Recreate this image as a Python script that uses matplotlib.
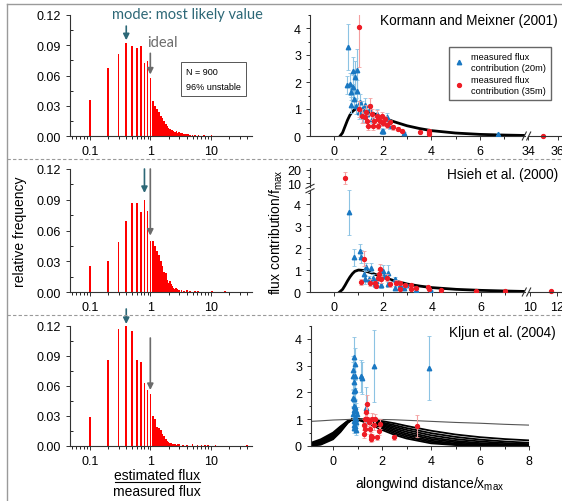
import numpy as np
import matplotlib.pyplot as plt
from matplotlib.lines import Line2D
from matplotlib.ticker import MultipleLocator, FixedLocator, NullFormatter, LogLocator

plt.rcParams['font.family'] = ['Liberation Sans', 'DejaVu Sans']

# ---------------- data: histograms (estimated flux / measured flux) ----------------
ratio = [0.1, 0.2, 0.3, 0.4, 0.5, 0.6, 0.7, 0.8, 0.9, 1.0,
         1.1, 1.2, 1.3, 1.4, 1.5, 1.6, 1.7, 1.8, 1.9, 2.0,
         2.1, 2.2, 2.3, 2.4, 2.5, 2.6, 2.7, 2.8, 2.9, 3.0]

freq_km = [0.036, 0.067, 0.081, 0.092, 0.0895, 0.087, 0.089, 0.072, 0.074, 0.058,
           0.035, 0.030, 0.027, 0.0235, 0.020, 0.0175, 0.015, 0.012, 0.010, 0.008,
           0.007, 0.006, 0.006, 0.005, 0.004, 0.004, 0.0045, 0.003, 0.003, 0.0035]
tail_km_x = [3.2, 3.4, 3.6, 3.9, 4.2, 4.5, 5.0, 5.5, 6.3, 7.8, 10.2]
tail_km_f = [0.003, 0.003, 0.002, 0.002, 0.002, 0.001, 0.001, 0.001, 0.001, 0.001, 0.001]

freq_hs = [0.025, 0.030, 0.049, 0.069, 0.087, 0.087, 0.078, 0.0895, 0.079, 0.050,
           0.050, 0.045, 0.040, 0.036, 0.030, 0.025, 0.020, 0.019, 0.012, 0.009,
           0.011, 0.008, 0.006, 0.004, 0.003, 0.004, 0.004, 0.003, 0.002, 0.002]
tail_hs_x = [3.3, 3.6, 4.0, 4.5, 5.5, 6.2, 10.5, 17.0]
tail_hs_f = [0.002, 0.001, 0.0015, 0.001, 0.001, 0.001, 0.001, 0.001]

freq_kl = [0.029, 0.086, 0.117, 0.120, 0.115, 0.086, 0.084, 0.063, 0.056, 0.052,
           0.030, 0.027, 0.019, 0.018, 0.016, 0.012, 0.010, 0.007, 0.005, 0.004,
           0.003, 0.003, 0.002, 0.002, 0.002, 0.002, 0.001, 0.002, 0.001, 0.002]
tail_kl_x = [3.5, 4.0, 5.0, 6.0, 7.0, 8.0, 9.0, 12.0, 40.0]
tail_kl_f = [0.001, 0.0015, 0.002, 0.001, 0.001, 0.001, 0.001, 0.001, 0.001]

# ---------------- data: model footprints ----------------
km_x = [0.25, 0.35, 0.45, 0.55, 0.65, 0.75, 0.85, 0.95, 1.1, 1.3, 1.6, 2.0, 2.5, 3.0, 3.5, 4.0, 5.0, 6.0, 7.0, 7.86]
km_y = [0.0, 0.12, 0.35, 0.58, 0.77, 0.90, 0.98, 1.0, 0.99, 0.94, 0.84, 0.68, 0.52, 0.38, 0.28, 0.20, 0.11, 0.06, 0.035, 0.02]

hs_x = [0.23, 0.35, 0.45, 0.55, 0.65, 0.75, 0.85, 1.0, 1.2, 1.5, 2.0, 2.5, 3.0, 3.5, 4.0, 5.0, 6.0, 7.0, 7.8]
hs_y = [0.0, 0.12, 0.3, 0.5, 0.68, 0.83, 0.94, 1.0, 0.98, 0.88, 0.67, 0.5, 0.36, 0.27, 0.2, 0.12, 0.075, 0.045, 0.025]

kl_x = [-0.9, -0.5, 0.0, 0.3, 0.6, 0.8, 1.0, 1.4, 2.0, 2.5, 3.0, 4.0, 5.0, 6.0, 7.0, 8.0]
kl_curves = [
    [0.01, 0.05, 0.25, 0.52, 0.86, 1.00, 0.98, 0.86, 0.60, 0.42, 0.28, 0.10, 0.035, 0.012, 0.005, 0.002],
    [0.02, 0.07, 0.29, 0.55, 0.88, 1.00, 0.99, 0.89, 0.66, 0.48, 0.34, 0.15, 0.06, 0.025, 0.01, 0.004],
    [0.03, 0.09, 0.32, 0.58, 0.89, 1.00, 0.99, 0.91, 0.71, 0.54, 0.40, 0.20, 0.09, 0.04, 0.018, 0.008],
    [0.04, 0.11, 0.35, 0.61, 0.90, 1.00, 0.99, 0.93, 0.76, 0.60, 0.46, 0.26, 0.14, 0.07, 0.035, 0.018],
    [0.05, 0.13, 0.38, 0.64, 0.91, 1.00, 1.00, 0.94, 0.80, 0.66, 0.53, 0.32, 0.19, 0.11, 0.065, 0.04],
    [0.07, 0.16, 0.42, 0.67, 0.92, 1.00, 1.00, 0.96, 0.84, 0.72, 0.60, 0.40, 0.26, 0.17, 0.11, 0.07],
    [0.09, 0.20, 0.46, 0.70, 0.93, 1.00, 1.00, 0.97, 0.88, 0.78, 0.67, 0.48, 0.34, 0.24, 0.17, 0.12],
    [0.12, 0.25, 0.50, 0.73, 0.94, 1.00, 1.00, 0.98, 0.93, 0.85, 0.75, 0.57, 0.43, 0.33, 0.26, 0.21],
]
kl_wide = [0.92, 0.94, 0.97, 0.98, 0.99, 1.0, 1.0, 1.0, 0.99, 0.98, 0.96, 0.92, 0.88, 0.85, 0.81, 0.78]

# ---------------- data: measured flux contributions ----------------
km_b_x = [0.59, 0.55, 0.66, 0.69, 0.77, 0.80, 0.86, 0.96, 0.96, 0.70, 0.82, 0.91, 1.02, 1.07, 1.14,
          1.21, 1.28, 1.37, 1.48, 1.55, 1.76, 1.89, 1.96, 2.03, 2.17, 2.24, 2.30, 2.89, 6.76]
km_b_y = [3.28, 1.89, 1.93, 1.62, 1.80, 2.42, 2.17, 2.44, 1.68, 1.15, 1.37, 1.10, 0.88, 1.25, 1.00,
          0.73, 1.15, 0.81, 1.00, 0.63, 0.81, 0.51, 0.20, 0.17, 0.69, 0.51, 0.38, 0.11, 0.07]
km_b_e = [0.85, 0.35, 0.4, 0.3, 0.45, 0.5, 0.6, 0.8, 0.4, 0.3, 0.35, 0.3, 0.25, 0.3, 0.3,
          0.2, 0.25, 0.2, 0.2, 0.15, 0.2, 0.15, 0.1, 0.1, 0.15, 0.12, 0.1, 0.05, 0.03]

km_r_x = [1.03, 1.03, 1.14, 1.28, 1.32, 1.37, 1.41, 1.48, 1.55, 1.62, 1.65, 1.76, 1.82, 1.82,
          1.89, 1.96, 2.03, 2.10, 2.19, 2.30, 2.44, 2.65, 2.78, 3.54, 3.92, 3.92, 3.92]
km_r_y = [4.05, 1.00, 0.75, 0.69, 0.88, 0.57, 0.38, 1.12, 0.81, 0.38, 0.57, 0.75, 0.38, 0.63,
          0.57, 0.75, 0.48, 0.63, 0.41, 0.51, 0.32, 0.26, 0.20, 0.16, 0.20, 0.14, 0.07]
km_r_e = [1.5, 0.3, 0.25, 0.2, 0.25, 0.2, 0.15, 0.3, 0.2, 0.15, 0.15, 0.2, 0.12, 0.15,
          0.15, 0.15, 0.12, 0.12, 0.1, 0.1, 0.08, 0.06, 0.05, 0.04, 0.05, 0.04, 0.03]
km_r_far_x = [35.0]
km_r_far_y = [0.01]

hs_b_x = [0.61, 0.80, 1.05, 1.12, 1.21, 1.25, 1.32, 1.43, 1.52, 1.59, 1.66, 1.73, 1.93, 2.00,
          2.03, 2.20, 2.20, 2.48, 2.48, 2.68, 2.84, 2.95, 3.33, 3.97]
hs_b_y = [3.62, 1.57, 1.87, 1.61, 0.81, 0.58, 1.14, 0.58, 1.11, 0.65, 0.35, 0.50, 0.30, 0.96,
          0.73, 0.88, 0.35, 0.58, 0.20, 0.30, 0.20, 0.30, 0.09, 0.05]
hs_b_e = [1.02, 0.4, 0.3, 0.3, 0.2, 0.2, 0.2, 0.15, 0.2, 0.15, 0.12, 0.12, 0.1, 0.25,
          0.15, 0.35, 0.1, 0.12, 0.08, 0.08, 0.06, 0.08, 0.04, 0.03]

hs_r_x = [1.21, 1.12, 1.46, 1.66, 1.73, 1.80, 1.84, 1.86, 1.93, 2.16, 2.27, 2.52, 2.68, 2.71,
          2.88, 3.16, 3.16, 3.36, 3.84, 3.88, 4.35, 5.81, 6.97]
hs_r_y = [1.52, 0.46, 0.43, 0.40, 0.27, 0.65, 0.81, 1.03, 0.58, 0.65, 0.35, 0.43, 0.40, 0.15,
          0.30, 0.30, 0.15, 0.20, 0.23, 0.15, 0.08, 0.05, 0.03]
hs_r_e = [0.35, 0.15, 0.15, 0.12, 0.1, 0.15, 0.2, 0.25, 0.15, 0.15, 0.1, 0.1, 0.1, 0.05,
          0.08, 0.08, 0.05, 0.05, 0.05, 0.04, 0.03, 0.02, 0.01]
hs_r_high_x = [0.46]
hs_r_high_y = [13.75]
hs_r_high_e = [4.5]
hs_r_far_x = [11.55]
hs_r_far_y = [0.03]

kl_b_x = [0.85, 0.90, 0.83, 0.82, 0.88, 0.84, 0.88, 0.85, 0.80, 0.86, 0.84, 0.90, 0.86, 0.92, 0.83,
          0.88, 0.95, 0.86, 0.92, 0.84, 0.90, 0.86, 0.92, 0.97, 1.13, 1.20, 1.36, 1.67, 3.93]
kl_b_y = [3.32, 3.05, 2.85, 2.62, 2.62, 2.40, 2.10, 2.05, 1.78, 1.75, 1.50, 1.45, 1.35, 1.30, 1.20,
          1.10, 1.00, 0.95, 0.88, 0.80, 0.75, 0.68, 0.60, 1.20, 2.63, 2.53, 1.41, 3.00, 2.90]
kl_b_e = [0.75, 0.6, 0.5, 0.5, 0.45, 0.4, 0.4, 0.35, 0.3, 0.3, 0.3, 0.3, 0.3, 0.3, 0.25,
          0.25, 0.25, 0.2, 0.2, 0.2, 0.2, 0.2, 0.2, 0.25, 0.6, 0.6, 0.8, 1.35, 1.2]

kl_r_x = [1.40, 1.36, 1.31, 1.27, 1.31, 1.27, 1.40, 1.47, 1.49, 1.53, 1.57, 1.60, 1.67, 1.73,
          1.87, 1.80, 1.91, 2.47, 3.44, 1.53]
kl_r_y = [1.57, 1.26, 1.00, 0.79, 0.64, 0.45, 1.00, 0.88, 0.64, 0.39, 0.32, 1.00, 0.79, 1.00,
          0.57, 0.32, 0.82, 0.32, 0.74, 0.26]
kl_r_e = [0.35, 0.3, 0.25, 0.2, 0.2, 0.15, 0.25, 0.2, 0.2, 0.15, 0.12, 0.25, 0.2, 0.2,
          0.15, 0.1, 0.2, 0.1, 0.4, 0.1]

# ---------------- styling ----------------
W, H = 562, 502
BLUE, BLUE_E = '#1a78c2', '#8cc3e3'
RED, RED_E = '#ee1c25', '#f4a0a0'
TEAL, GREY = '#2d6877', '#6b6b6b'

fig = plt.figure(figsize=(W / 100, H / 100), dpi=100)


def px_rect(x0, y0, x1, y1):
    return [x0 / W, 1 - y1 / H, (x1 - x0) / W, (y1 - y0) / H]


def fx(x):
    return x / W


def fy(y):
    return 1 - y / H


def clean(ax, left=True, bottom=True):
    for s in ['top', 'right']:
        ax.spines[s].set_visible(False)
    ax.spines['left'].set_visible(left)
    ax.spines['bottom'].set_visible(bottom)
    for s in ['left', 'bottom']:
        ax.spines[s].set_color('#333333')
        ax.spines[s].set_linewidth(0.8)
    ax.tick_params(labelsize=9, length=3, width=0.7, colors='#333333', labelcolor='black')
    ax.tick_params(which='minor', length=1.8, width=0.6)
    ax.patch.set_alpha(0)


def slashes(x, y, vertical_axis=False):
    # little '//' break mark, pixel position
    for dx in (-2.2, 2.2):
        if vertical_axis:
            xs = [x - 4, x + 4]
            ys = [y + dx + 2, y + dx - 2]
        else:
            xs = [x + dx - 2, x + dx + 2]
            ys = [y + 4, y - 4]
        fig.add_artist(Line2D([fx(v) for v in xs], [fy(v) for v in ys],
                              color='#333333', lw=0.8, transform=fig.transFigure))


# ---------------- frame lines ----------------
fig.add_artist(Line2D([fx(7), 1], [fy(5), fy(5)], color='#9a9a9a', lw=1.0, transform=fig.transFigure))
fig.add_artist(Line2D([fx(7), fx(7)], [fy(5), 0], color='#9a9a9a', lw=1.0, transform=fig.transFigure))
for yy in (160, 316):
    fig.add_artist(Line2D([fx(7), 1], [fy(yy), fy(yy)], color='#9a9a9a', lw=0.8,
                          ls=(0, (3, 2)), transform=fig.transFigure))

# ---------------- histograms ----------------
hist_rows = [
    (px_rect(70, 16, 252, 137), freq_km, tail_km_x, tail_km_f),
    (px_rect(70, 170, 252, 293), freq_hs, tail_hs_x, tail_hs_f),
    (px_rect(70, 327, 252, 447), freq_kl, tail_kl_x, tail_kl_f),
]
hist_axes = []
for rect, f, tx, tf in hist_rows:
    ax = fig.add_axes(rect)
    xs = np.array(ratio + tx)
    ys = np.array(f + tf)
    ax.bar(xs, ys, width=0.06 * xs, color='#ff0000', linewidth=0)
    ax.set_xscale('log')
    ax.set_xlim(0.047, 48)
    ax.set_ylim(0, 0.12)
    ax.set_yticks([0, 0.03, 0.06, 0.09, 0.12])
    ax.set_yticklabels(['0.00', '0.03', '0.06', '0.09', '0.12'])
    ax.yaxis.set_minor_locator(MultipleLocator(0.015))
    ax.set_xticks([0.1, 1, 10])
    ax.set_xticklabels(['0.1', '1', '10'])
    ax.xaxis.set_minor_locator(LogLocator(base=10, subs=np.arange(2, 10)))
    ax.xaxis.set_minor_formatter(NullFormatter())
    clean(ax)
    ax.tick_params(axis='y', which='minor', direction='in')
    hist_axes.append(ax)

arrow_kw = dict(arrowstyle='-|>', lw=1.2, mutation_scale=9, shrinkA=0, shrinkB=0)
a1, a2, a3 = hist_axes
a1.annotate('', xy=(0.4, 0.095), xytext=(0.4, 0.109), annotation_clip=False,
            arrowprops=dict(color=TEAL, **arrow_kw))
a1.annotate('', xy=(1.0, 0.061), xytext=(1.0, 0.082), annotation_clip=False,
            arrowprops=dict(color=GREY, **arrow_kw))
a2.annotate('', xy=(0.8, 0.0966), xytext=(0.8, 0.12), annotation_clip=False,
            arrowprops=dict(color=TEAL, **arrow_kw))
a2.annotate('', xy=(1.0, 0.055), xytext=(1.0, 0.12), annotation_clip=False,
            arrowprops=dict(color=GREY, **arrow_kw))
a3.annotate('', xy=(0.4, 0.122), xytext=(0.4, 0.137), annotation_clip=False,
            arrowprops=dict(color=TEAL, **arrow_kw))
a3.annotate('', xy=(1.0, 0.056), xytext=(1.0, 0.108), annotation_clip=False,
            arrowprops=dict(color=GREY, **arrow_kw))

fig.text(fx(187), fy(15), 'mode: most likely value', color=TEAL, fontsize=10.5,
         family=['Lato', 'DejaVu Sans'], ha='center', va='center')
fig.text(fx(162), fy(43), 'ideal', color=GREY, fontsize=10.5,
         family=['Lato', 'DejaVu Sans'], ha='center', va='center')
fig.text(fx(186), fy(80), 'N = 900\n96% unstable', fontsize=6.5, ha='left', va='center',
         linespacing=1.9,
         bbox=dict(boxstyle='square,pad=0.55', fc='white', ec='#555555', lw=0.7))

fig.text(fx(20), fy(232), 'relative frequency', rotation=90, fontsize=10, ha='center', va='center')
fig.text(fx(157), fy(476), 'estimated flux', fontsize=10, ha='center', va='center')
fig.add_artist(Line2D([fx(115), fx(200)], [fy(483), fy(483)], color='black', lw=0.8,
                      transform=fig.transFigure))
fig.text(fx(157), fy(492), 'measured flux', fontsize=10, ha='center', va='center')


# ---------------- footprint panels ----------------
def style_fp(ax, xmaj=2, ymax=4):
    clean(ax)
    ax.xaxis.set_major_locator(MultipleLocator(xmaj))
    ax.xaxis.set_minor_locator(MultipleLocator(xmaj / 2))
    ax.yaxis.set_major_locator(FixedLocator(list(range(0, ymax + 1))))
    ax.yaxis.set_minor_locator(MultipleLocator(0.5))


def points(ax, bx, by, be, rx, ry, re):
    if bx:
        ax.errorbar(bx, by, yerr=be, fmt='^', ms=3.2, color=BLUE, ecolor=BLUE_E,
                    elinewidth=0.8, capsize=1.5, capthick=0.6, zorder=3)
    if rx:
        ax.errorbar(rx, ry, yerr=re, fmt='o', ms=2.8, color=RED, ecolor=RED_E,
                    elinewidth=0.8, capsize=1.5, capthick=0.6, zorder=4)


# Kormann and Meixner
axk = fig.add_axes(px_rect(310, 15.5, 525, 137))
axk.plot(km_x, km_y, color='black', lw=2.0, zorder=2)
points(axk, km_b_x, km_b_y, km_b_e, km_r_x, km_r_y, km_r_e)
axk.set_xlim(-0.99, 7.86)
axk.set_ylim(0, 4.5)
style_fp(axk)
axk.set_xticks([0, 2, 4, 6])

axk2 = fig.add_axes(px_rect(528, 15.5, 562, 137))
axk2.plot(km_r_far_x, km_r_far_y, 'o', ms=2.8, color=RED, clip_on=False)
axk2.set_xlim(33.97, 36.3)
axk2.set_ylim(0, 4.5)
clean(axk2, left=False)
axk2.set_xticks([34, 36])
axk2.set_yticks([])
slashes(526.5, 137)

axk.legend([Line2D([], [], ls='none', marker='^', ms=3.2, color=BLUE),
            Line2D([], [], ls='none', marker='o', ms=2.8, color=RED)],
           ['measured flux\ncontribution (20m)', 'measured flux\ncontribution (35m)'],
           loc='upper left', bbox_to_anchor=(fx(444), fy(43)), bbox_transform=fig.transFigure,
           fontsize=6.7, frameon=True, fancybox=False, edgecolor='#666666', framealpha=1,
           handlelength=1.0, handletextpad=0.8, borderpad=0.6, labelspacing=0.4)

fig.text(fx(558), fy(21), 'Kormann and Meixner (2001)', fontsize=9.8, ha='right', va='center')

# Hsieh et al.
axs = fig.add_axes(px_rect(310, 191, 525, 293))
axs.plot(hs_x, hs_y, color='black', lw=2.0, zorder=2)
points(axs, hs_b_x, hs_b_y, hs_b_e, hs_r_x, hs_r_y, hs_r_e)
axs.set_xlim(-0.98, 7.8)
axs.set_ylim(0, 4.64)
style_fp(axs)
axs.set_xticks([0, 2, 4, 6])

axs_up = fig.add_axes(px_rect(310, 169, 525, 188))
points(axs_up, [], [], [], hs_r_high_x, hs_r_high_y, hs_r_high_e)
axs_up.set_xlim(-0.98, 7.8)
axs_up.set_ylim(7.2, 21.5)
clean(axs_up, bottom=False)
axs_up.set_xticks([])
axs_up.set_yticks([10, 20])
axs_up.yaxis.set_minor_locator(MultipleLocator(5))
slashes(310, 189.5, vertical_axis=True)

axs_r = fig.add_axes(px_rect(528, 191, 562, 293))
axs_r.plot(hs_r_far_x, hs_r_far_y, 'o', ms=2.8, color=RED, clip_on=False)
axs_r.set_xlim(9.85, 12.37)
axs_r.set_ylim(0, 4.64)
clean(axs_r, left=False)
axs_r.set_xticks([10, 12])
axs_r.set_yticks([])
slashes(526.5, 293)

fig.text(fx(558), fy(175), 'Hsieh et al. (2000)', fontsize=9.8, ha='right', va='center')
fig.text(fx(276), fy(232), 'flux contribution/f$_{\\mathregular{max}}$', rotation=90,
         fontsize=10, ha='center', va='center')

# Kljun et al.
axj = fig.add_axes(px_rect(311, 326.5, 529, 447))
for c in kl_curves:
    axj.plot(kl_x, c, color='black', lw=1.3, zorder=2)
axj.plot(kl_x, kl_wide, color='#555555', lw=0.8, zorder=2)
points(axj, kl_b_x, kl_b_y, kl_b_e, kl_r_x, kl_r_y, kl_r_e)
axj.set_xlim(-0.9, 8)
axj.set_ylim(0, 4.5)
style_fp(axj)
axj.set_xticks([0, 2, 4, 6, 8])

fig.text(fx(556), fy(333), 'Kljun et al. (2004)', fontsize=9.8, ha='right', va='center')
fig.text(fx(430), fy(484), 'alongwind distance/x$_{\\mathregular{max}}$', fontsize=10,
         ha='center', va='center')

fig.savefig('out.png', dpi=100)
